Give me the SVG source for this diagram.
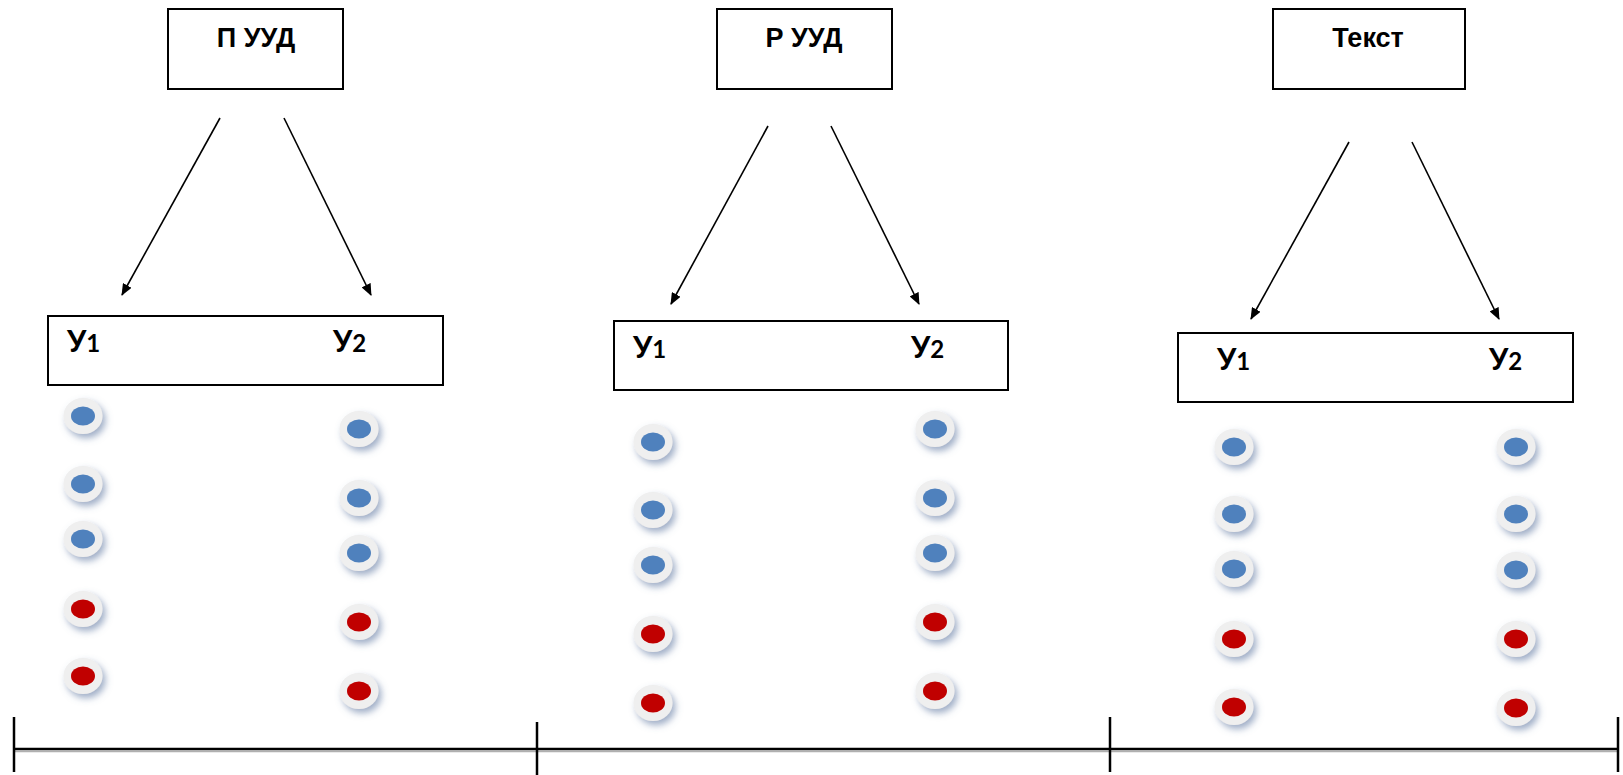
<svg xmlns="http://www.w3.org/2000/svg" xmlns:xlink="http://www.w3.org/1999/xlink" width="1623" height="775" viewBox="0 0 1623 775">
<defs>
<style>
.box{fill:#fff;stroke:#000;stroke-width:2}
.hdr{font-family:"Liberation Sans",Arial,sans-serif;font-weight:bold;font-size:27px;fill:#000;text-anchor:middle}
.lbl{font-family:Lato,"Open Sans",sans-serif;font-weight:bold;font-size:30px;fill:#000}
.lbl tspan{font-size:24px}
.arr{stroke:#000;stroke-width:1.6;fill:none;marker-end:url(#ah)}
.axis{stroke:#000;stroke-width:2.5}
.axsh{stroke:#b0b0b0;stroke-width:1.5}
</style>
<marker id="ah" markerWidth="12" markerHeight="10" refX="11" refY="5" orient="auto" markerUnits="userSpaceOnUse">
<path d="M0,0 L12,5 L0,10 Z" fill="#000"/>
</marker>
<filter id="sh" x="-50%" y="-50%" width="200%" height="200%">
<feDropShadow dx="3" dy="4" stdDeviation="3.5" flood-color="#5f76a0" flood-opacity="0.6"/>
</filter>
<g id="bd"><ellipse rx="19.5" ry="18" fill="#efefef" filter="url(#sh)"/><ellipse rx="12" ry="9.5" fill="#4f81bd"/></g>
<g id="rd"><ellipse rx="19.5" ry="18" fill="#efefef" filter="url(#sh)"/><ellipse rx="12" ry="9.5" fill="#c00000"/></g>
</defs>
<rect width="1623" height="775" fill="#fff"/>

<g id="head1"><rect class="box" x="168" y="9" width="175" height="80"/><text class="hdr" x="256" y="47">П УУД</text></g>
<g id="head2"><rect class="box" x="717" y="9" width="175" height="80"/><text class="hdr" x="804" y="47">Р УУД</text></g>
<g id="head3"><rect class="box" x="1273" y="9" width="192" height="80"/><text class="hdr" x="1368" y="47">Текст</text></g>

<g id="connectors">
<line class="arr" x1="220" y1="118" x2="122" y2="295"/>
<line class="arr" x1="284" y1="118" x2="371" y2="295"/>
<line class="arr" x1="768" y1="126" x2="671" y2="304"/>
<line class="arr" x1="831" y1="126" x2="919" y2="304"/>
<line class="arr" x1="1349" y1="142" x2="1251" y2="319"/>
<line class="arr" x1="1412" y1="142" x2="1499" y2="319"/>
</g>

<g id="group1"><rect class="box" x="48" y="316" width="395" height="69"/>
<text class="lbl" x="67" y="352">У<tspan>1</tspan></text>
<text class="lbl" x="333" y="352">У<tspan>2</tspan></text></g>
<g id="group2"><rect class="box" x="614" y="321" width="394" height="69"/>
<text class="lbl" x="633" y="358">У<tspan>1</tspan></text>
<text class="lbl" x="911" y="358">У<tspan>2</tspan></text></g>
<g id="group3"><rect class="box" x="1178" y="333" width="395" height="69"/>
<text class="lbl" x="1217" y="370">У<tspan>1</tspan></text>
<text class="lbl" x="1489" y="370">У<tspan>2</tspan></text></g>

<g id="dots1a">
<use xlink:href="#bd" x="83" y="416"/><use xlink:href="#bd" x="83" y="484"/><use xlink:href="#bd" x="83" y="539"/><use xlink:href="#rd" x="83" y="609"/><use xlink:href="#rd" x="83" y="676"/>
</g>
<g id="dots1b">
<use xlink:href="#bd" x="359" y="429"/><use xlink:href="#bd" x="359" y="498"/><use xlink:href="#bd" x="359" y="553"/><use xlink:href="#rd" x="359" y="622"/><use xlink:href="#rd" x="359" y="691"/>
</g>
<g id="dots2a">
<use xlink:href="#bd" x="653" y="442"/><use xlink:href="#bd" x="653" y="510"/><use xlink:href="#bd" x="653" y="565"/><use xlink:href="#rd" x="653" y="634"/><use xlink:href="#rd" x="653" y="703"/>
</g>
<g id="dots2b">
<use xlink:href="#bd" x="935" y="429"/><use xlink:href="#bd" x="935" y="498"/><use xlink:href="#bd" x="935" y="553"/><use xlink:href="#rd" x="935" y="622"/><use xlink:href="#rd" x="935" y="691"/>
</g>
<g id="dots3a">
<use xlink:href="#bd" x="1234" y="447"/><use xlink:href="#bd" x="1234" y="514"/><use xlink:href="#bd" x="1234" y="569"/><use xlink:href="#rd" x="1234" y="639"/><use xlink:href="#rd" x="1234" y="707"/>
</g>
<g id="dots3b">
<use xlink:href="#bd" x="1516" y="447"/><use xlink:href="#bd" x="1516" y="514"/><use xlink:href="#bd" x="1516" y="570"/><use xlink:href="#rd" x="1516" y="639"/><use xlink:href="#rd" x="1516" y="708"/>
</g>

<g id="axis">
<line class="axsh" x1="14" y1="751.5" x2="1618" y2="751.5"/>
<line class="axis" x1="14" y1="749" x2="1618" y2="749"/>
<line class="axis" x1="14" y1="717" x2="14" y2="772"/>
<line class="axis" x1="537" y1="722" x2="537" y2="775"/>
<line class="axis" x1="1110" y1="717" x2="1110" y2="772"/>
<line class="axis" x1="1618" y1="717" x2="1618" y2="772"/>
</g>
</svg>
